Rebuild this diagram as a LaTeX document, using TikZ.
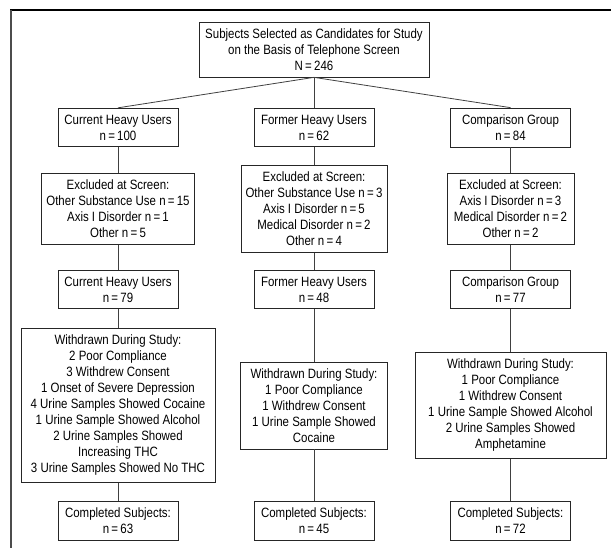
\documentclass[tikz,border=0pt]{standalone}
\usepackage{fontspec}
\setmainfont{Liberation Sans}[FakeStretch=0.85]
\newcommand{\nis}{\,=\,}

\begin{document}
\begin{tikzpicture}[x=1pt,y=-1pt,
    box/.style={draw=black!85,line width=0.8pt,align=center,inner xsep=4pt,inner ysep=6.5pt,font=\fontsize{13.5}{16}\selectfont},
    grp/.style={box,minimum width=120pt},
    link/.style={draw=black!75,line width=0.8pt}]
  \useasboundingbox (0,0) rectangle (611,548);
  \draw[line width=1.5pt] (10,10) -- (611,10);
  \draw[line width=1.6pt,black!70] (11,10) -- (11,548);

  \node[box,minimum width=230pt] (top) at (314,49.5) {Subjects Selected as Candidates for Study\\on the Basis of Telephone Screen\\N\nis246};

  \node[grp] (cur) at (118,127.5) {Current Heavy Users\\n\nis100};
  \node[grp] (form) at (314,127.5) {Former Heavy Users\\n\nis62};
  \node[grp] (comp) at (510.5,127.5) {Comparison Group\\n\nis84};

  \node[box,minimum width=153pt] (curexc) at (118,209) {Excluded at Screen:\\Other Substance Use n\nis15\\Axis I Disorder n\nis1\\Other n\nis5};
  \node[box,minimum width=146pt] (formexc) at (314,209) {Excluded at Screen:\\Other Substance Use n\nis3\\Axis I Disorder n\nis5\\Medical Disorder n\nis2\\Other n\nis4};
  \node[box,minimum width=127pt] (compexc) at (510.5,209) {Excluded at Screen:\\Axis I Disorder n\nis3\\Medical Disorder n\nis2\\Other n\nis2};

  \node[grp] (cur2) at (118,289.5) {Current Heavy Users\\n\nis79};
  \node[grp] (form2) at (314,289.5) {Former Heavy Users\\n\nis48};
  \node[grp] (comp2) at (510.5,289.5) {Comparison Group\\n\nis77};

  \node[box,minimum width=194pt] (curwd) at (118,405.5) {Withdrawn During Study:\\2 Poor Compliance\\3 Withdrew Consent\\1 Onset of Severe Depression\\4 Urine Samples Showed Cocaine\\1 Urine Sample Showed Alcohol\\2 Urine Samples Showed\\Increasing THC\\3 Urine Samples Showed No THC};
  \node[box,minimum width=147pt] (formwd) at (314,405.5) {Withdrawn During Study:\\1 Poor Compliance\\1 Withdrew Consent\\1 Urine Sample Showed\\Cocaine};
  \node[box,minimum width=191pt] (compwd) at (510.5,405.5) {Withdrawn During Study:\\1 Poor Compliance\\1 Withdrew Consent\\1 Urine Sample Showed Alcohol\\2 Urine Samples Showed\\Amphetamine};

  \node[grp] (curdone) at (118,521) {Completed Subjects:\\n\nis63};
  \node[grp] (formdone) at (314,521) {Completed Subjects:\\n\nis45};
  \node[grp] (compdone) at (510.5,521) {Completed Subjects:\\n\nis72};

  \draw[link] (top.south) -- (cur.north);
  \draw[link] (top.south) -- (form.north);
  \draw[link] (top.south) -- (comp.north);
  \foreach \col in {cur,form,comp} {
    \draw[link] (\col.south) -- (\col exc.north);
    \draw[link] (\col exc.south) -- (\col 2.north);
    \draw[link] (\col 2.south) -- (\col wd.north);
    \draw[link] (\col wd.south) -- (\col done.north);
  }
\end{tikzpicture}
\end{document}
